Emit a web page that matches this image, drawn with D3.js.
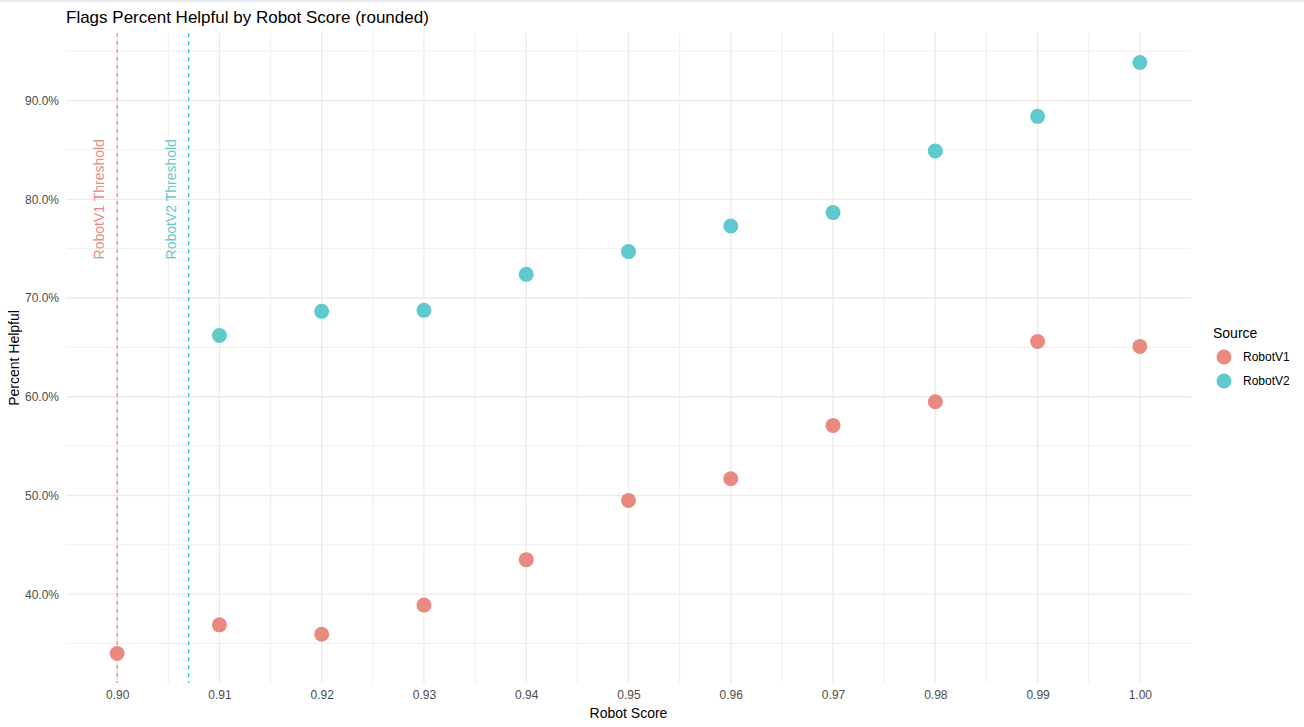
<!DOCTYPE html>
<html>
<head>
<meta charset="utf-8">
<script src="https://cdn.jsdelivr.net/npm/d3@7"></script>
<style>
body{margin:0;background:#fff;font-family:Arial,"Liberation Sans",sans-serif;}
</style>
</head>
<body>
<svg id="chart" width="1304" height="727"></svg>
<script>
var scores = [0.90,0.91,0.92,0.93,0.94,0.95,0.96,0.97,0.98,0.99,1.00];
var v1Helpful = [34.0,36.9,35.95,38.9,43.5,49.5,51.7,57.1,59.5,65.6,65.1];
var v2Scores = [0.91,0.92,0.93,0.94,0.95,0.96,0.97,0.98,0.99,1.00];
var v2Helpful = [66.2,68.65,68.75,72.4,74.7,77.3,78.65,84.9,88.4,93.85];
var sources = ["RobotV1","RobotV2"];
var colors = ["#F8766D","#00BFC4"];
var pointColors = ["#E98A80","#5FC9CD"];
var thresholds = [0.90,0.907];
var xTicks = [0.90,0.91,0.92,0.93,0.94,0.95,0.96,0.97,0.98,0.99,1.00];
var yTicks = [40,50,60,70,80,90];

var svg = d3.select("#chart");
var pLeft=66,pRight=1191,pTop=33,pBottom=683;

var allY = v1Helpful.concat(v2Helpful);
var yMin=d3.min(allY), yMax=d3.max(allY), pad=(yMax-yMin)*0.05;
var xScale = d3.scaleLinear().domain([0.895,1.005]).range([pLeft,pRight]);
var yScale = d3.scaleLinear().domain([yMin-pad,yMax+pad]).range([pBottom,pTop]);

svg.append("rect").attr("x",0).attr("y",0).attr("width",1304).attr("height",2).attr("fill","#e8ecf0");

// minor grid
var g = svg.append("g");
xTicks.slice(0,-1).forEach(function(t){
  g.append("line").attr("x1",xScale(t+0.005)).attr("x2",xScale(t+0.005))
   .attr("y1",pTop).attr("y2",pBottom).attr("stroke","#ebebeb").attr("stroke-width",0.8);
});
[35,45,55,65,75,85,95].forEach(function(t){
  g.append("line").attr("y1",yScale(t)).attr("y2",yScale(t))
   .attr("x1",pLeft).attr("x2",pRight).attr("stroke","#ebebeb").attr("stroke-width",0.8);
});
xTicks.forEach(function(t){
  g.append("line").attr("x1",xScale(t)).attr("x2",xScale(t))
   .attr("y1",pTop).attr("y2",pBottom).attr("stroke","#ebebeb").attr("stroke-width",1.3);
});
yTicks.forEach(function(t){
  g.append("line").attr("y1",yScale(t)).attr("y2",yScale(t))
   .attr("x1",pLeft).attr("x2",pRight).attr("stroke","#ebebeb").attr("stroke-width",1.3);
});

// axes (labels only)
var xAxis = svg.append("g").attr("transform","translate(0,"+(pBottom+3)+")")
  .call(d3.axisBottom(xScale).tickValues(xTicks).tickFormat(d3.format(".2f")).tickSize(0));
var yAxis = svg.append("g").attr("transform","translate("+(pLeft-4)+",0)")
  .call(d3.axisLeft(yScale).tickValues(yTicks).tickFormat(function(d){return d.toFixed(1)+"%";}).tickSize(0));
[xAxis,yAxis].forEach(function(a){
  a.select(".domain").remove();
  a.selectAll("text").attr("fill","#4d4d4d").style("font-size","12px").style("font-family","Arial,'Liberation Sans',sans-serif");
});
xAxis.selectAll("text").attr("dy","0.71em").attr("y",4);
yAxis.selectAll("text").attr("x",-3);

// thresholds
thresholds.forEach(function(t,i){
  svg.append("line").attr("x1",xScale(t)).attr("x2",xScale(t)).attr("y1",pTop).attr("y2",pBottom)
    .attr("stroke",colors[i]).attr("stroke-width",1.1).attr("stroke-dasharray","4,4");
  var tx=xScale(t)-13, ty=yScale(80);
  svg.append("text").attr("transform","translate("+tx+","+ty+") rotate(-90)")
    .attr("text-anchor","middle").attr("fill",pointColors[i]).style("font-size","14px")
    .text(sources[i]+" Threshold");
});

// points
var series=[{x:scores,y:v1Helpful},{x:v2Scores,y:v2Helpful}];
series.forEach(function(s,i){
  svg.append("g").selectAll("circle").data(s.x).enter().append("circle")
    .attr("cx",function(d){return xScale(d);})
    .attr("cy",function(d,j){return yScale(s.y[j]);})
    .attr("r",7.5).attr("fill",pointColors[i]);
});

// titles
svg.append("text").attr("x",66).attr("y",23).style("font-size","17px").attr("fill","#000")
  .text("Flags Percent Helpful by Robot Score (rounded)");
svg.append("text").attr("x",(pLeft+pRight)/2).attr("y",718).attr("text-anchor","middle")
  .style("font-size","14px").text("Robot Score");
svg.append("text").attr("transform","translate(19,"+((pTop+pBottom)/2)+") rotate(-90)")
  .attr("text-anchor","middle").style("font-size","14px").text("Percent Helpful");

// legend
var lg = svg.append("g");
lg.append("text").attr("x",1213).attr("y",338).style("font-size","14px").text("Source");
sources.forEach(function(s,i){
  lg.append("circle").attr("cx",1224).attr("cy",357+i*24).attr("r",7.5)
    .attr("fill",pointColors[i]);
  lg.append("text").attr("x",1243).attr("y",361+i*24).style("font-size","12px").text(s);
});
</script>
</body>
</html>
